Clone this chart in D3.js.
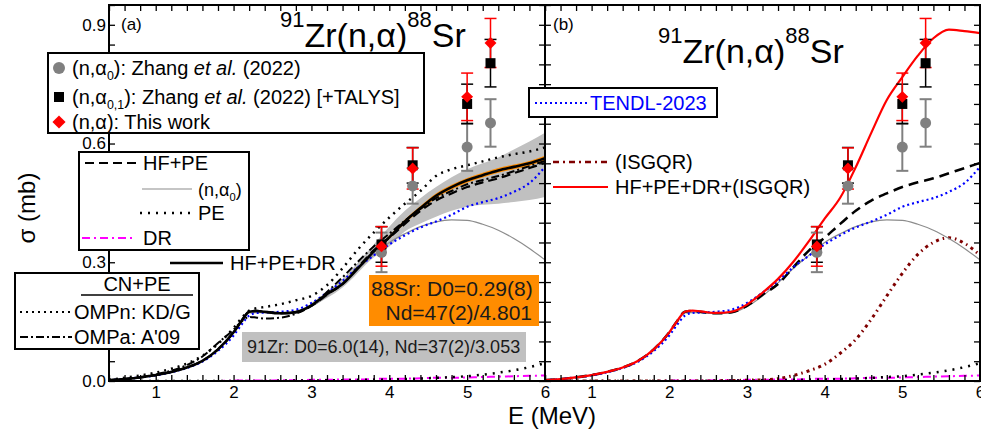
<!DOCTYPE html>
<html>
<head>
<meta charset="utf-8">
<script src="https://cdn.jsdelivr.net/npm/d3@7"></script>
<style>
body { margin: 0; background: #fff; }
text { font-family: "Liberation Sans", Arial, sans-serif; fill: #000; }
</style>
</head>
<body>
<div id="chart"></div>
<script>
// energy grid (MeV) shared by the model curves
const energy = [0.4, 0.6, 0.8, 1.0, 1.2, 1.4, 1.6, 1.8, 2.0, 2.1, 2.2, 2.3, 2.4, 2.6, 2.8, 3.0, 3.2,
                3.4, 3.6, 3.8, 4.0, 4.2, 4.4, 4.6, 4.8, 5.0, 5.2, 5.4, 5.6, 5.8, 6.0];

// model curves (mb)
const hfPeDr  = [.002,.005,.009,.015,.023,.034,.051,.080,.123,.151,.175,.177,.175,.171,.174,.191,.220,
                 .245,.285,.327,.363,.403,.437,.468,.490,.507,.520,.532,.541,.550,.563];
const hfPe    = [.002,.005,.009,.015,.023,.034,.051,.080,.123,.151,.175,.177,.175,.171,.174,.190,.218,
                 .245,.288,.330,.362,.397,.430,.456,.474,.490,.502,.512,.525,.538,.551];
const nAlpha0 = [.002,.005,.009,.015,.023,.034,.051,.080,.122,.150,.172,.173,.172,.170,.172,.188,.215,
                 .248,.285,.318,.350,.372,.390,.402,.407,.406,.396,.381,.360,.335,.306];
const pe      = [0,0,0,0,0,0,0,0,0,0,0,0,0,.001,.001,.001,.002,
                 .002,.003,.003,.004,.005,.006,.008,.010,.012,.016,.021,.027,.035,.045];
const dr      = [0,0,0,0,0,0,0,0,.001,.001,.001,.001,.001,.002,.002,.003,.003,
                 .004,.004,.005,.006,.006,.007,.008,.008,.009,.010,.011,.012,.013,.014];
const ompnKDG = [.003,.008,.014,.021,.031,.044,.064,.094,.134,.158,.178,.184,.187,.194,.204,.215,.242,
                 .285,.333,.375,.413,.448,.480,.518,.535,.545,.555,.565,.573,.580,.590];
const ompaA09 = [.002,.005,.010,.017,.026,.040,.062,.096,.130,.150,.162,.160,.158,.160,.170,.190,.225,
                 .262,.302,.340,.372,.405,.435,.462,.480,.497,.508,.518,.530,.543,.556];
const tendl   = [.002,.005,.009,.014,.022,.033,.049,.076,.115,.142,.165,.172,.173,.175,.180,.197,.223,
                 .253,.288,.317,.345,.368,.388,.403,.420,.440,.452,.462,.478,.500,.541];
const isgqr   = [0,0,0,0,0,0,0,0,0,0,0,0,0,0,.001,.002,.003,
                 .006,.014,.026,.042,.070,.105,.156,.215,.272,.320,.350,.362,.348,.318];
const fullModel = [.002,.005,.009,.015,.023,.034,.051,.080,.123,.151,.175,.178,.176,.172,.175,.193,.223,
                 .258,.302,.354,.410,.463,.540,.627,.710,.768,.822,.866,.888,.884,.879];

// uncertainty bands (left panel)
const bandEnergy = [3.0, 3.4, 3.8, 4.0, 4.2, 4.4, 4.6, 4.8, 5.0, 5.2, 5.4, 5.6, 5.8, 6.0];
const bandLow    = [.188,.236,.312,.340,.378,.398,.415,.430,.440,.445,.448,.452,.457,.465];
const bandHigh   = [.198,.258,.345,.390,.430,.462,.490,.515,.535,.550,.565,.585,.605,.627];
const orangeEnergy = [3.8, 4.0, 4.2, 4.4, 4.6, 4.8, 5.0, 5.2, 5.4, 5.6, 5.8, 6.0];
const orangeLow    = [.324,.359,.398,.432,.462,.484,.501,.514,.526,.535,.544,.557];
const orangeHigh   = [.330,.367,.408,.442,.474,.496,.513,.526,.538,.547,.556,.569];

// experimental data
const expEnergy   = [3.9, 4.3, 5.0, 5.3];
const zhangA0     = [0.325, 0.493, 0.591, 0.652];
const zhangA0Err  = [0.050, 0.045, 0.060, 0.060];
const zhangA01    = [0.345, 0.545, 0.700, 0.803];
const zhangA01Err = [0.045, 0.045, 0.050, 0.060];
const thisWork    = [0.340, 0.537, 0.718, 0.854];
const thisWorkErr = [0.050, 0.052, 0.060, 0.062];

// axis ticks
const xTicks = d3.range(2, 31).map(i => i / 5);
const yTicks = d3.range(0, 20).map(i => i / 20);
const yLabels = [0, 0.3, 0.6, 0.9];

const W = 981, H = 435;
const svg = d3.select("#chart").append("svg").attr("width", W).attr("height", H);

const y = d3.scaleLinear().domain([0, 0.95]).range([381, 5]);
const xLeft = d3.scaleLinear().domain([0.4, 6]).range([109, 545]);
const xRight = d3.scaleLinear().domain([0.4, 6]).range([545, 980]);

function clip(id, x) {
    svg.append("clipPath").attr("id", id).append("rect")
        .attr("x", x.range()[0]).attr("y", y.range()[1])
        .attr("width", x.range()[1] - x.range()[0]).attr("height", y.range()[0] - y.range()[1]);
}
clip("clipL", xLeft);
clip("clipR", xRight);

function curve(g, x, xs, ys, color, width, dash) {
    const line = d3.line().x(d => x(d[0])).y(d => y(d[1])).curve(d3.curveMonotoneX);
    g.append("path").datum(d3.zip(xs, ys)).attr("d", line)
        .attr("fill", "none").attr("stroke", color).attr("stroke-width", width)
        .attr("stroke-dasharray", dash || null);
}

function band(g, x, xs, lo, hi, color) {
    const area = d3.area().x(d => x(d[0])).y0(d => y(d[1])).y1(d => y(d[2])).curve(d3.curveMonotoneX);
    g.append("path").datum(d3.zip(xs, lo, hi)).attr("d", area).attr("fill", color);
}

function errorBars(g, x, vals, errs, color, width) {
    expEnergy.forEach((e, i) => {
        const cx = x(e);
        g.append("line").attr("x1", cx).attr("x2", cx)
            .attr("y1", y(vals[i] - errs[i])).attr("y2", y(vals[i] + errs[i]))
            .attr("stroke", color).attr("stroke-width", width);
        [vals[i] - errs[i], vals[i] + errs[i]].forEach(v => {
            g.append("line").attr("x1", cx - 6).attr("x2", cx + 6)
                .attr("y1", y(v)).attr("y2", y(v))
                .attr("stroke", color).attr("stroke-width", width);
        });
    });
}

function dataPoints(g, x) {
    errorBars(g, x, zhangA0, zhangA0Err, "#808080", 2);
    errorBars(g, x, zhangA01, zhangA01Err, "#000", 1.5);
    errorBars(g, x, thisWork, thisWorkErr, "#ff0000", 1.5);
    expEnergy.forEach((e, i) => {
        g.append("circle").attr("cx", x(e)).attr("cy", y(zhangA0[i])).attr("r", 5.5).attr("fill", "#808080");
    });
    expEnergy.forEach((e, i) => {
        g.append("rect").attr("x", x(e) - 5).attr("y", y(zhangA01[i]) - 5)
            .attr("width", 10).attr("height", 10).attr("fill", "#000");
    });
    expEnergy.forEach((e, i) => {
        g.append("path").attr("d", d3.symbol(d3.symbolDiamond2, 90)())
            .attr("transform", "translate(" + x(e) + "," + y(thisWork[i]) + ")").attr("fill", "#ff0000");
    });
}

function axes(x, showYLabels) {
    const fx = d => Number.isInteger(d) ? d : "";
    const fy = d => showYLabels && yLabels.some(v => Math.abs(v - d) < 1e-6) ? d.toFixed(1) : "";
    const style = a => {
        a.select(".domain").remove();
        a.selectAll("line").attr("stroke", "#000").attr("stroke-width", 1.3);
        a.selectAll("text").style("font-size", "17px").style("font-family", "'Liberation Sans', Arial, sans-serif");
    };
    svg.append("g").attr("transform", "translate(0,381)")
        .call(d3.axisBottom(x).tickValues(xTicks).tickSize(-6).tickPadding(5).tickFormat(fx)).call(style);
    svg.append("g").attr("transform", "translate(0,5)")
        .call(d3.axisTop(x).tickValues(xTicks).tickSize(-6).tickFormat("")).call(style);
    svg.append("g").attr("transform", "translate(" + x.range()[0] + ",0)")
        .call(d3.axisLeft(y).tickValues(yTicks).tickSize(-6).tickPadding(3).tickFormat(fy)).call(style);
    svg.append("g").attr("transform", "translate(" + x.range()[1] + ",0)")
        .call(d3.axisRight(y).tickValues(yTicks).tickSize(-6).tickFormat("")).call(style);
    svg.append("rect").attr("x", x.range()[0]).attr("y", 5)
        .attr("width", x.range()[1] - x.range()[0]).attr("height", 376)
        .attr("fill", "none").attr("stroke", "#000").attr("stroke-width", 2);
}

function title(x0, y0) {
    const t = svg.append("text").attr("x", x0).attr("y", y0).style("font-size", "34px");
    t.append("tspan").text("91").style("font-size", "22px").attr("dy", -20);
    t.append("tspan").text("Zr(n,α)").attr("dy", 20);
    t.append("tspan").text("88").style("font-size", "22px").attr("dy", -20);
    t.append("tspan").text("Sr").attr("dy", 20);
}

// ---- left panel
const gL = svg.append("g").attr("clip-path", "url(#clipL)");
band(gL, xLeft, bandEnergy, bandLow, bandHigh, "#c0c0c0");
band(gL, xLeft, orangeEnergy, orangeLow, orangeHigh, "#ff8c00");
curve(gL, xLeft, energy, dr, "#ff00ff", 2, "8,4,2,4");
curve(gL, xLeft, energy, pe, "#000", 2.5, "2,6");
curve(gL, xLeft, energy, nAlpha0, "#8c8c8c", 1.2);
curve(gL, xLeft, energy, tendl, "#0000ff", 2.2, "2,3");
curve(gL, xLeft, energy, ompnKDG, "#000", 2.5, "2,5");
curve(gL, xLeft, energy, ompaA09, "#000", 2, "8,3,2,3");
curve(gL, xLeft, energy, hfPeDr, "#000", 2.6);
curve(gL, xLeft, energy, hfPe, "#000", 2.2, "9,5");
dataPoints(gL, xLeft);

// ---- right panel
const gR = svg.append("g").attr("clip-path", "url(#clipR)");
curve(gR, xRight, energy, dr, "#ff00ff", 2, "8,4,2,4");
curve(gR, xRight, energy, pe, "#000", 2.5, "2,6");
curve(gR, xRight, energy, isgqr, "#7f0000", 3, "3,4,1.5,4");
curve(gR, xRight, energy, nAlpha0, "#8c8c8c", 1.2);
curve(gR, xRight, energy, hfPe, "#000", 2.6, "10,6");
curve(gR, xRight, energy, tendl, "#0000ff", 2.2, "2,3");
curve(gR, xRight, energy, fullModel, "#ff0000", 2.2);
dataPoints(gR, xRight);

axes(xLeft, true);
axes(xRight, false);

title(280, 47);
title(658, 63);
svg.append("text").attr("x", 121).attr("y", 30).style("font-size", "17px").text("(a)");
svg.append("text").attr("x", 553).attr("y", 30).style("font-size", "17px").text("(b)");

// axis titles
svg.append("text").attr("x", 552).attr("y", 424).attr("text-anchor", "middle")
    .style("font-size", "24px").text("E (MeV)");
svg.append("text").attr("transform", "translate(35,208) rotate(-90)").attr("text-anchor", "middle")
    .style("font-size", "24px").text("σ (mb)");

// ---- legends
function box(x0, y0, x1, y1) {
    svg.append("rect").attr("x", x0).attr("y", y0).attr("width", x1 - x0).attr("height", y1 - y0)
        .attr("fill", "#fff").attr("stroke", "#000").attr("stroke-width", 2);
}
function legLine(x0, x1, yy, color, width, dash) {
    svg.append("line").attr("x1", x0).attr("x2", x1).attr("y1", yy).attr("y2", yy)
        .attr("stroke", color).attr("stroke-width", width).attr("stroke-dasharray", dash || null);
}
function richText(x0, yy, parts, size, color) {
    const t = svg.append("text").attr("x", x0).attr("y", yy).style("font-size", size + "px");
    if (color) t.style("fill", color);
    parts.forEach(p => {
        const s = t.append("tspan").text(p.t);
        if (p.sub) s.style("font-size", (size * 0.62) + "px").attr("dy", 5);
        if (p.back) s.attr("dy", -5);
        if (p.it) s.style("font-style", "italic");
    });
    return t;
}

// data legend
box(48, 53, 424, 133);
svg.append("circle").attr("cx", 59).attr("cy", 68).attr("r", 6).attr("fill", "#808080");
svg.append("rect").attr("x", 54).attr("y", 92).attr("width", 10).attr("height", 10).attr("fill", "#000");
svg.append("path").attr("d", d3.symbol(d3.symbolDiamond2, 110)())
    .attr("transform", "translate(59,122)").attr("fill", "#ff0000");
richText(72, 75, [{t: "(n,α"}, {t: "0", sub: true}, {t: "): Zhang ", back: true}, {t: "et al.", it: true}, {t: " (2022)"}], 20);
richText(72, 104, [{t: "(n,α"}, {t: "0,1", sub: true}, {t: "): Zhang ", back: true}, {t: "et al.", it: true}, {t: " (2022) [+TALYS]"}], 20);
richText(72, 129, [{t: "(n,α): This work"}], 20);

// model legend
box(79, 152, 249, 250);
legLine(85, 137, 163, "#000", 2.2, "9,5");
richText(143, 170, [{t: "HF+PE"}], 20);
legLine(142, 192, 189, "#8c8c8c", 1.2);
richText(198, 196, [{t: "(n,α"}, {t: "0", sub: true}, {t: ")", back: true}], 18);
legLine(140, 190, 213, "#000", 2.5, "2,6");
richText(198, 220, [{t: "PE"}], 20);
legLine(82, 134, 238, "#ff00ff", 2, "8,4,2,4");
richText(143, 245, [{t: "DR"}], 20);
legLine(170, 223, 263, "#000", 2.6);
richText(230, 270, [{t: "HF+PE+DR"}], 20);

// CN+PE legend
box(15, 273, 199, 349);
svg.append("text").attr("x", 137).attr("y", 291).attr("text-anchor", "middle").style("font-size", "20px").text("CN+PE");
legLine(81, 193, 295, "#000", 1.5);
legLine(20, 72, 312, "#000", 2, "2,4");
richText(74, 319, [{t: "OMPn: KD/G"}], 20);
legLine(20, 72, 337, "#000", 2, "8,3,2,3");
richText(74, 344, [{t: "OMPa: A'09"}], 20);

// TENDL legend
box(529, 88, 717, 117);
legLine(535, 588, 103, "#0000ff", 2.2, "2,3");
richText(590, 110, [{t: "TENDL-2023"}], 20, "#0000ff");

// right panel legend
legLine(553, 608, 162, "#7f0000", 2.5, "6,4,2,4");
richText(615, 169, [{t: "(ISGQR)"}], 20);
legLine(553, 608, 187, "#ff0000", 2.2);
richText(615, 194, [{t: "HF+PE+DR+(ISGQR)"}], 20);

// annotation boxes
svg.append("rect").attr("x", 369).attr("y", 275).attr("width", 170).attr("height", 51).attr("fill", "#ff8c00");
richText(371, 296, [{t: "88Sr: D0=0.29(8)"}], 21, "#1a1a1a");
richText(532, 320, [{t: "Nd=47(2)/4.801"}], 21, "#1a1a1a").attr("text-anchor", "end");
svg.append("rect").attr("x", 242).attr("y", 332).attr("width", 284).attr("height", 30).attr("fill", "#c0c0c0");
richText(247, 353, [{t: "91Zr: D0=6.0(14), Nd=37(2)/3.053"}], 18, "#1a1a1a");
</script>
</body>
</html>
